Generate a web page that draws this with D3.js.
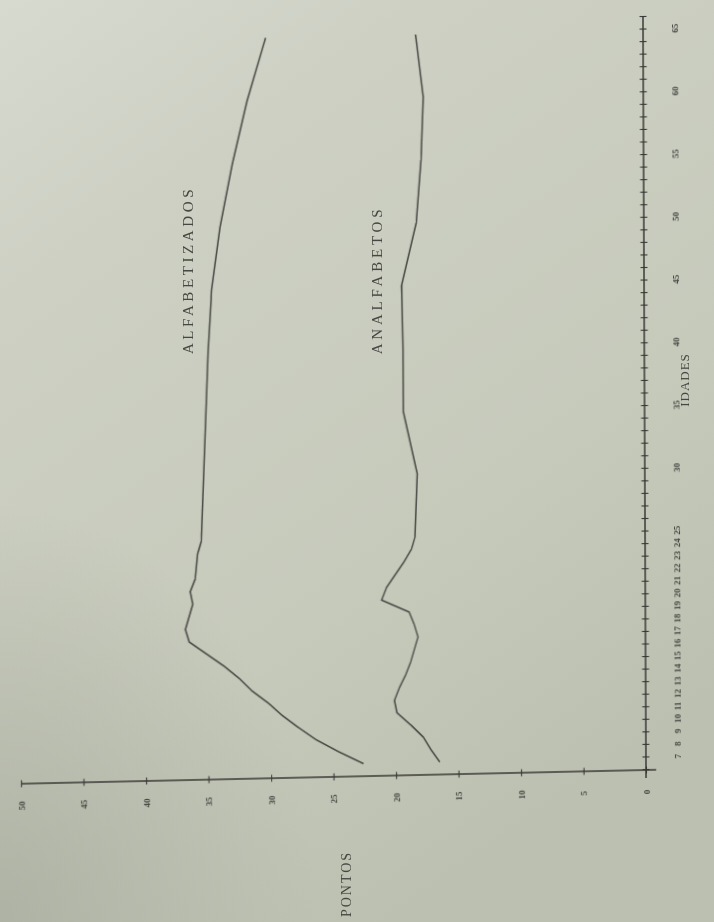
<!DOCTYPE html>
<html>
<head>
<meta charset="utf-8">
<script src="https://cdn.jsdelivr.net/npm/d3@7"></script>
<style>
  html, body { margin: 0; padding: 0; background: #c6cabb; }
  svg { display: block; }
</style>
</head>
<body>
<svg id="chart" width="714" height="922"></svg>
<script>
// Idades (anos) e pontos médios por grupo
const ages = [7, 8, 9, 10, 11, 12, 13, 14, 15, 16, 17, 18, 19, 20, 21, 22, 23, 24, 25,
              30, 35, 40, 45, 50, 55, 60, 65];
const alfabetizados = [22.6, 24.6, 26.4, 27.8, 29.1, 30.2, 31.5, 32.5, 33.7, 35.1, 36.5, 36.8,
                       36.5, 36.2, 36.4, 36.0, 35.9, 35.8, 35.5, 35.3, 35.1, 34.9, 34.6, 33.9,
                       32.9, 31.7, 30.2];
const analfabetos = [16.5, 17.2, 17.8, 18.8, 19.9, 20.1, 19.7, 19.2, 18.8, 18.5, 18.2, 18.5,
                     18.9, 21.1, 20.7, 20.0, 19.3, 18.7, 18.4, 18.2, 19.3, 19.3, 19.4, 18.2,
                     17.8, 17.6, 18.2];
const ageLabels = [7, 8, 9, 10, 11, 12, 13, 14, 15, 16, 17, 18, 19, 20, 21, 22, 23, 24, 25,
                   30, 35, 40, 45, 50, 55, 60, 65];
const pointLabels = [0, 5, 10, 15, 20, 25, 30, 35, 40, 45, 50];

const svg = d3.select("#chart");
const W = 714, H = 922;

// Paper background
const defs = svg.append("defs");
const grad = defs.append("linearGradient").attr("id", "paper")
  .attr("x1", "0").attr("y1", "0").attr("x2", "0.55").attr("y2", "1");
grad.append("stop").attr("offset", "0%").attr("stop-color", "#d7dacf");
grad.append("stop").attr("offset", "25%").attr("stop-color", "#cdd0c3");
grad.append("stop").attr("offset", "70%").attr("stop-color", "#c6cabb");
grad.append("stop").attr("offset", "100%").attr("stop-color", "#bcc0b1");
const shade = defs.append("radialGradient").attr("id", "shade")
  .attr("cx", "0%").attr("cy", "100%").attr("r", "45%");
shade.append("stop").attr("offset", "0%").attr("stop-color", "#a9ad9f").attr("stop-opacity", 0.8);
shade.append("stop").attr("offset", "100%").attr("stop-color", "#a9ad9f").attr("stop-opacity", 0);
defs.append("filter").attr("id", "soft")
  .append("feGaussianBlur").attr("stdDeviation", 0.6);

svg.append("rect").attr("width", W).attr("height", H).attr("fill", "url(#paper)");
svg.append("rect").attr("width", W).attr("height", H).attr("fill", "url(#shade)");

// The plot is laid out with age along local x and points along local -y,
// then turned so that age runs up the page and points run leftwards.
const x = d3.scaleLinear().domain([6, 66]).range([0, 753]);
const y = d3.scaleLinear().domain([0, 50]).range([0, -625]);

const g = svg.append("g")
  .attr("transform", "matrix(-0.004,-1,1,-0.022,646,770)")
  .attr("filter", "url(#soft)");

const ink = "#383935";
const labelSet = new Set(ageLabels);

// Age axis (IDADES)
const ageTicks = d3.range(6, 67);
const ageAxis = d3.axisBottom(x)
  .tickValues(ageTicks)
  .tickSize(3.5)
  .tickPadding(0)
  .tickFormat(d => labelSet.has(d) ? d : "");
const ga = g.append("g").call(ageAxis);
ga.select(".domain").remove();
ga.selectAll(".tick line").attr("y1", -3.5).attr("stroke", ink).attr("stroke-width", 1.1);
ga.selectAll(".tick text")
  .attr("y", 32).attr("dy", "0.35em")
  .attr("font-family", "Liberation Serif, serif")
  .attr("font-size", 9).attr("font-weight", "bold")
  .attr("fill", "#454642");
g.append("line")
  .attr("x1", x(6) - 8).attr("x2", x(66))
  .attr("y1", 0).attr("y2", 0)
  .attr("stroke", ink).attr("stroke-width", 1.5);

// Points axis (PONTOS)
const ptAxis = d3.axisLeft(y)
  .tickValues(pointLabels)
  .tickSize(3.5)
  .tickPadding(0);
const gp = g.append("g").call(ptAxis);
gp.select(".domain").remove();
gp.selectAll(".tick line").attr("x1", 3.5).attr("stroke", ink).attr("stroke-width", 1.1);
gp.selectAll(".tick text")
  .attr("x", -22).attr("dy", "0.35em")
  .attr("text-anchor", "middle")
  .attr("font-family", "Liberation Serif, serif")
  .attr("font-size", 9).attr("font-weight", "bold")
  .attr("fill", "#454642");
g.append("line")
  .attr("x1", 0).attr("x2", 0)
  .attr("y1", 10).attr("y2", y(50))
  .attr("stroke", ink).attr("stroke-width", 1.5);

// Curves
const line = d3.line().x(d => x(d[0])).y(d => y(d[1]));
const series = [alfabetizados, analfabetos];
series.forEach(vals => {
  g.append("path")
    .datum(ages.map((a, i) => [a, vals[i]]))
    .attr("d", line)
    .attr("fill", "none")
    .attr("stroke", "#454642")
    .attr("stroke-width", 1.5)
    .attr("stroke-linejoin", "round");
});

// Titles and curve names, set vertically on the page
const txt = svg.append("g").attr("filter", "url(#soft)")
  .attr("font-family", "Liberation Serif, serif").attr("fill", "#454642");
function vText(cx, cy, s, size, spacing) {
  txt.append("text")
    .attr("transform", `translate(${cx},${cy}) rotate(-90)`)
    .attr("text-anchor", "middle")
    .attr("dominant-baseline", "central")
    .attr("font-size", size)
    .attr("letter-spacing", spacing)
    .text(s);
}
vText(188, 270, "ALFABETIZADOS", 15, 3.6);
vText(377, 280, "ANALFABETOS", 15, 3.8);
vText(684, 380, "IDADES", 13, 1);
vText(346, 884, "PONTOS", 14, 2);
</script>
</body>
</html>
